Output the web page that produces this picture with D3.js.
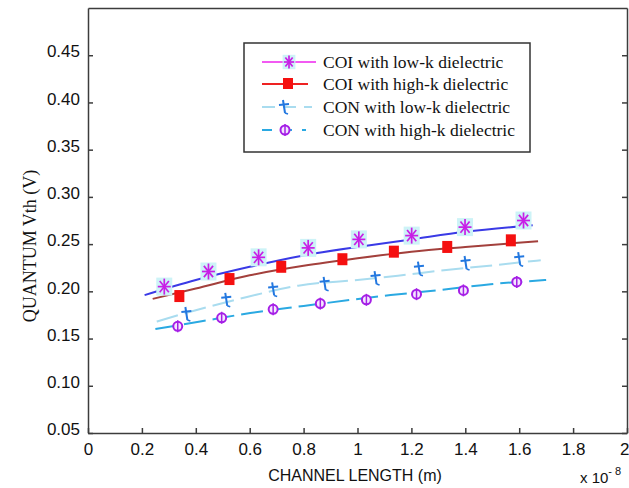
<!DOCTYPE html>
<html>
<head>
<meta charset="utf-8">
<script src="https://cdn.jsdelivr.net/npm/d3@7"></script>
<style>
  html, body { margin: 0; padding: 0; background: #fff; }
  svg { display: block; }
</style>
</head>
<body>
<svg id="chart" width="629" height="488"></svg>
<script>
// ---- Data (x in units of 1e-8 m, y in V) ----
const xTicks = [0, 0.2, 0.4, 0.6, 0.8, 1, 1.2, 1.4, 1.6, 1.8, 2];
const xTickLabels = ["0", "0.2", "0.4", "0.6", "0.8", "1", "1.2", "1.4", "1.6", "1.8", "2"];
const yTicks = [0.05, 0.10, 0.15, 0.20, 0.25, 0.30, 0.35, 0.40, 0.45];
const yTickLabels = ["0.05", "0.10", "0.15", "0.20", "0.25", "0.30", "0.35", "0.40", "0.45"];

const seriesNames = ["COI with low-k dielectric", "COI with high-k dielectric",
                     "CON with low-k dielectric", "CON with high-k dielectric"];

// curve points
const coiLowLine  = [[0.21,0.196],[0.4,0.212],[0.6,0.226],[0.8,0.238],[1.0,0.247],[1.2,0.255],[1.4,0.263],[1.65,0.270]];
const coiHighLine = [[0.24,0.192],[0.4,0.203],[0.6,0.217],[0.8,0.227],[1.0,0.235],[1.2,0.242],[1.4,0.247],[1.67,0.253]];
const conLowLine  = [[0.255,0.168],[0.4,0.180],[0.59,0.194],[0.78,0.206],[1.0,0.212],[1.15,0.2165],[1.31,0.222],[1.52,0.228],[1.68,0.233]];
const conHighLine = [[0.25,0.160],[0.416,0.168],[0.602,0.177],[0.8,0.1845],[1.123,0.196],[1.309,0.2015],[1.494,0.2075],[1.70,0.212]];

// marker points
const coiLowPts  = [[0.283,0.205],[0.447,0.221],[0.633,0.236],[0.817,0.246],[1.005,0.255],[1.201,0.259],[1.399,0.268],[1.616,0.275]];
const coiHighPts = [[0.339,0.195],[0.525,0.213],[0.717,0.226],[0.944,0.234],[1.135,0.242],[1.333,0.247],[1.569,0.254]];
const conLowPts  = [[0.365,0.176],[0.513,0.191],[0.687,0.202],[0.878,0.208],[1.067,0.214],[1.228,0.224],[1.401,0.230],[1.600,0.234]];
const conHighPts = [[0.333,0.163],[0.496,0.172],[0.687,0.181],[0.862,0.187],[1.033,0.191],[1.219,0.197],[1.393,0.201],[1.591,0.210]];

// ---- Layout ----
const svg = d3.select("#chart");
const L = 88, R = 627, T = 8, B = 433;
const x = d3.scaleLinear().domain([0, 2]).range([L, R]);
const y = d3.scaleLinear().domain([0.05, 0.5]).range([B, T]);

const axisColor = "#3c3c3c";
const sans = "'Liberation Sans', Arial, sans-serif";
const serif = "'Liberation Serif', 'Times New Roman', serif";

// axes (inward ticks)
const gx = svg.append("g").attr("transform", `translate(0,${B})`)
  .call(d3.axisBottom(x).tickValues(xTicks).tickSizeInner(-5).tickSizeOuter(0).tickPadding(10)
    .tickFormat((d, i) => xTickLabels[i]));
const gy = svg.append("g").attr("transform", `translate(${L},0)`)
  .call(d3.axisLeft(y).tickValues(yTicks).tickSizeInner(-5).tickSizeOuter(0).tickPadding(8)
    .tickFormat((d, i) => yTickLabels[i]));
const gyr = svg.append("g").attr("transform", `translate(${R},0)`)
  .call(d3.axisRight(y).tickValues(yTicks).tickSizeInner(-5).tickSizeOuter(0).tickFormat(""));
const gxt = svg.append("g").attr("transform", `translate(0,${T})`)
  .call(d3.axisTop(x).tickValues([]).tickSizeOuter(0));

[gx, gy, gyr, gxt].forEach(g => {
  g.selectAll("path.domain").attr("stroke", axisColor).attr("stroke-width", 1.5);
  g.selectAll(".tick line").attr("stroke", axisColor).attr("stroke-width", 1.5);
  g.selectAll(".tick text").attr("fill", "#111").style("font-family", sans).style("font-size", "17px");
});
gx.selectAll(".tick text").attr("dy", "0.71em");
gy.selectAll(".tick text").attr("dy", "0.1em");
// keep the last x label inside the picture
gx.selectAll(".tick").filter(d => d === 2).select("text").attr("text-anchor", "end").attr("x", 2);

// axis titles
svg.append("text").attr("x", 355).attr("y", 481).attr("text-anchor", "middle")
  .style("font-family", sans).style("font-size", "16px").attr("fill", "#111")
  .text("CHANNEL LENGTH (m)");
const sc = svg.append("text").attr("x", 580).attr("y", 483)
  .style("font-family", sans).style("font-size", "15px").attr("fill", "#111");
sc.append("tspan").text("x 10");
sc.append("tspan").attr("dy", -8).style("font-size", "11px").text("- 8");

svg.append("text").attr("transform", "translate(36,246) rotate(-90)").attr("text-anchor", "middle")
  .style("font-family", serif).style("font-size", "18px").attr("fill", "#111")
  .text("QUANTUM Vth  (V)");

// ---- Lines ----
const line = d3.line().x(d => x(d[0])).y(d => y(d[1])).curve(d3.curveMonotoneX);
const lineStyles = [
  { data: coiLowLine,  color: "#3a3ae6", dash: null },
  { data: coiHighLine, color: "#a3403c", dash: null },
  { data: conLowLine,  color: "#a9dcef", dash: "22,7" },
  { data: conHighLine, color: "#2aa9e2", dash: "22,7" }
];
lineStyles.forEach(s => {
  svg.append("path").datum(s.data).attr("d", line).attr("fill", "none")
    .attr("stroke", s.color).attr("stroke-width", 2)
    .attr("stroke-dasharray", s.dash);
});

// ---- Markers ----
function asterisk(g, cx, cy, sz) {
  const s = sz || 1;
  g.append("rect").attr("x", cx - 8 * s).attr("y", cy - 9 * s).attr("width", 16 * s).attr("height", 18 * s)
    .attr("fill", "#cdf3f7");
  for (let k = 0; k < 4; k++) {
    const a = k * Math.PI / 4;
    g.append("line").attr("x1", cx - 6.5 * s * Math.sin(a)).attr("y1", cy - 8 * s * Math.cos(a))
      .attr("x2", cx + 6.5 * s * Math.sin(a)).attr("y2", cy + 8 * s * Math.cos(a))
      .attr("stroke", "#c81fe6").attr("stroke-width", 1.7);
  }
}
function square(g, cx, cy) {
  g.append("rect").attr("x", cx - 5).attr("y", cy - 6).attr("width", 10).attr("height", 12)
    .attr("fill", "#f51010");
}
function cross(g, cx, cy) {
  g.append("line").attr("x1", cx - 1).attr("y1", cy - 7).attr("x2", cx + 1).attr("y2", cy + 6)
    .attr("stroke", "#2378e0").attr("stroke-width", 2);
  g.append("line").attr("x1", cx - 5).attr("y1", cy - 2).attr("x2", cx + 5).attr("y2", cy - 3)
    .attr("stroke", "#2378e0").attr("stroke-width", 2);
  g.append("line").attr("x1", cx + 1).attr("y1", cy + 6).attr("x2", cx + 4).attr("y2", cy + 7)
    .attr("stroke", "#2378e0").attr("stroke-width", 1.6);
}
function phi(g, cx, cy) {
  g.append("circle").attr("cx", cx).attr("cy", cy).attr("r", 4.5)
    .attr("fill", "#f4e6ff").attr("stroke", "#a51fe6").attr("stroke-width", 2);
  g.append("line").attr("x1", cx).attr("y1", cy - 6).attr("x2", cx).attr("y2", cy + 6)
    .attr("stroke", "#a51fe6").attr("stroke-width", 1.5);
}
const markerSets = [
  { data: coiLowPts,  fn: asterisk },
  { data: coiHighPts, fn: square },
  { data: conLowPts,  fn: cross },
  { data: conHighPts, fn: phi }
];
const gm = svg.append("g");
markerSets.forEach(s => s.data.forEach(d => s.fn(gm, x(d[0]), y(d[1]))));

// ---- Legend ----
const lg = svg.append("g");
lg.append("rect").attr("x", 244).attr("y", 43).attr("width", 286).attr("height", 109)
  .attr("fill", "#fff").attr("stroke", "#333").attr("stroke-width", 1.5);
const legendRows = [62, 84, 107, 130];
const legendLine = [
  { color: "#f25af2", dash: null,  x2: 316, mx: 289 },
  { color: "#ee2222", dash: null,  x2: 308, mx: 288 },
  { color: "#a9dcef", dash: "13,8", x2: 312, mx: 284 },
  { color: "#2aa9e2", dash: "10,10", x2: 306, mx: 285 }
];
seriesNames.forEach((name, i) => {
  const yy = legendRows[i], st = legendLine[i];
  lg.append("line").attr("x1", 262).attr("x2", st.x2).attr("y1", yy).attr("y2", yy)
    .attr("stroke", st.color).attr("stroke-width", 2).attr("stroke-dasharray", st.dash);
  if (i === 0) {
    asterisk(lg, st.mx, yy, 0.8);
  } else if (i === 1) {
    lg.append("rect").attr("x", st.mx - 5).attr("y", yy - 6).attr("width", 10).attr("height", 11).attr("fill", "#f51010");
  } else if (i === 2) {
    cross(lg, st.mx, yy);
  } else {
    phi(lg, st.mx, yy);
  }
  lg.append("text").attr("x", 323).attr("y", yy).attr("dy", "0.35em")
    .style("font-family", serif).style("font-size", "17.5px").attr("fill", "#111")
    .text(name);
});
</script>
</body>
</html>
